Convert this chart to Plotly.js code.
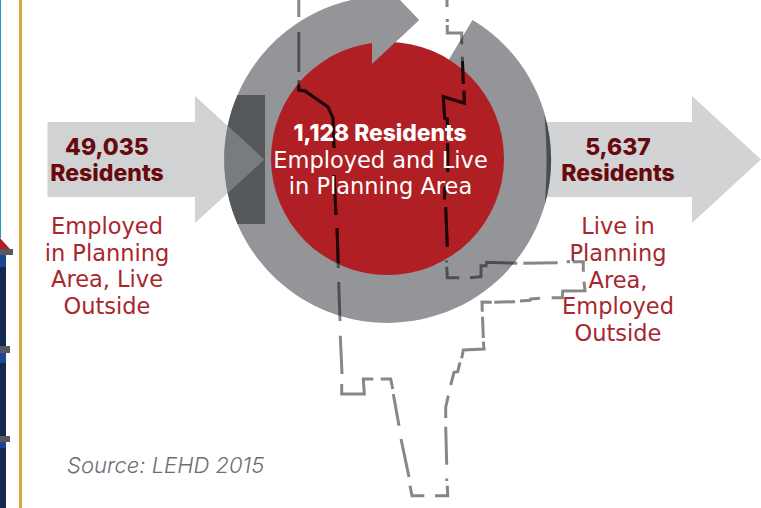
<!DOCTYPE html>
<html>
<head>
<meta charset="utf-8">
<script src="https://cdn.plot.ly/plotly-3.0.1.min.js"></script>
<style>html,body{margin:0;padding:0;background:#fff}</style>
</head>
<body>
<div id="chart" style="width:761px;height:508px"></div>
<script>
// Inflow / outflow head counts for the planning area
const residents = { inflow: 49035, resident: 1128, outflow: 5637 };
const fmt = n => n.toLocaleString("en-US");

// Palette
const GREY_RING = "#939598", DARK_PANEL = "#54585a", DARK_RIM = "#4a4d50";
const RED_CORE = "#b01f24", RED_LABEL = "#a8272d", RED_FIGURE = "#680a0d";
const ARROW_SOLID = "#d1d3d4", ARROW_GLASS = "rgba(160,163,165,0.485)";

// Arrow outlines
const inflowArrowX = [47.5, 195, 195, 264.5, 195, 195, 47.5];
const inflowArrowY = [122, 122, 96, 159.5, 223, 197, 197];
const outflowArrowX = [500, 692, 692, 761, 692, 692, 500];
const outflowArrowY = [122, 122, 96, 159.5, 223, 197, 197];

// Ring and core discs: centre x, centre y, radius
const ring = [387.7, 159.4, 163.5];
const core = [387.5, 158.5, 116.5];

// Arrowhead where the ring turns back on itself
const ringHeadX = [372, 396, 419, 372];
const ringHeadY = [-4, -4, 20, 64];

// Planning-area boundary, one run per drawn dash stroke
const boundaryRuns = [
  [[298.8,0],[298.8,17]],
  [[298.8,32],[298.8,72]],
  [[298.8,80],[298.8,90],[305,91],[328,107],[333,118],[334,148]],
  [[334,175],[336,215]],
  [[337,228],[338.3,268]],
  [[338.7,282],[340,321]],
  [[340.3,335.7],[342,374]],
  [[341.7,384],[341.7,394],[364.3,394],[363.3,379],[373.3,379]],
  [[380.7,379],[390.7,379],[392.7,389]],
  [[393.3,394],[399,425.7]],
  [[401,439],[409,477]],
  [[410,485.7],[412,495.7],[424.3,495.7]],
  [[435,495.7],[447.7,495.7],[447.3,485.7]],
  [[446.7,481],[446.7,478.5]],
  [[446.7,464.7],[445.7,426.7]],
  [[445.7,418],[445.7,407.3],[448.3,395.7]],
  [[450.7,385],[454,372.3],[457.7,371.7],[460,362.3]],
  [[461.7,358.3],[463.3,350],[484,349],[483.3,341.7]],
  [[483.3,338],[482.5,316.7]],
  [[482.3,311.7],[482,302],[491.7,302.3]],
  [[494.3,302.3],[515,301.7]],
  [[520,301],[530,300.3],[530.7,299],[540,298.3]],
  [[551.7,297.7],[562.3,297.7],[562.7,291],[585,290.7],[584,281.7]],
  [[583.3,271.7],[583.3,261.7],[572.7,261.7]],
  [[570,261.7],[566.7,261.7]],
  [[557.7,262.7],[523.3,263.3]],
  [[517.3,263.3],[486.7,262.3],[486,265.7],[481,265.7],[481,276.7],[470,277.7]],
  [[459.3,277.7],[447.3,277.7],[446.7,266.7]],
  [[446.5,262.5],[446.4,260.5]],
  [[447.3,246.7],[445.7,207.3]],
  [[444.3,199.3],[445,186.7]],
  [[447.7,171.7],[447.7,143.3]],
  [[447.5,135],[447.3,119],[444.7,118.3],[443.3,96.7],[464.3,103.3],[464,90.7]],
  [[463.3,84],[462.3,56.7]],
  [[461.7,44.3],[461.7,33],[447.3,33],[447.3,25]],
  [[447.3,22],[447.3,19]],
  [[447,7],[447,0]]
];
// The same strokes where they cross the red core
const boundaryOnCoreRuns = [
  [[298.8,85],[298.8,90],[305,91],[328,107],[333,118],[334,148]],
  [[334,175],[336,215]],
  [[337,228],[338.2,263]],
  [[447.3,246.7],[445.7,207.3]],
  [[444.3,199.3],[445,186.7]],
  [[447.7,171.7],[447.7,143.3]],
  [[447.5,135],[447.3,119],[444.7,118.3],[443.3,96.7],[464.3,103.3],[464,90.7]],
  [[463.3,84],[462.5,61]]
];

// Text lines
const figureX = [107, 107, 618, 618];
const figureY = [149, 175, 149, 175];
const figureText = [fmt(residents.inflow), "Residents", fmt(residents.outflow), "Residents"];

const noteX = [107, 107, 107, 107, 618, 618, 618, 618, 618];
const noteY = [228, 255, 281.5, 308, 228.5, 255.5, 282, 308.5, 335];
const noteText = ["Employed", "in Planning", "Area, Live", "Outside",
                  "Live in", "Planning", "Area,", "Employed", "Outside"];

const coreX = [380, 380.5, 380.5];
const coreY = [135.5, 162.5, 188.5];
const coreHead = fmt(residents.resident) + " Residents";
const coreText = ["Employed and Live", "in Planning Area"];

const sourceText = "Source: LEHD 2015";

// Neighbouring page furniture along the left edge
const sideBands = [
  { x: [0, 6], y: [252, 508], color: "#14294f" },
  { x: [0, 6], y: [255, 267], color: "#1f4690" },
  { x: [0, 6], y: [353, 363], color: "#1f4690" },
  { x: [0, 6], y: [442, 448], color: "#1f4690" },
  { x: [0, 13], y: [249, 255], color: "#58595b" },
  { x: [0, 10], y: [346, 353], color: "#58595b" },
  { x: [0, 10], y: [436, 442], color: "#58595b" },
  { x: [0, 1], y: [0, 238], color: "#1b9cc8" },
  { x: [19, 22], y: [0, 508], color: "#d6a740" }
];
const cornerX = [0, 10, 0], cornerY = [238, 249, 249];

function poly(xs, ys) {
  return "M" + xs.map((x, i) => x + "," + ys[i]).join(" L") + " Z";
}
// Shape paths have no arc command, so arcs go out as cubic Bezier runs.
function arc(c, rad, from, to, clockwise) {
  let a0 = Math.atan2(from[1] - c[1], from[0] - c[0]);
  let a1 = Math.atan2(to[1] - c[1], to[0] - c[0]);
  if (clockwise && a1 < a0) a1 += 2 * Math.PI;
  if (!clockwise && a1 > a0) a1 -= 2 * Math.PI;
  const n = Math.ceil(Math.abs(a1 - a0) / (Math.PI / 4));
  const da = (a1 - a0) / n, k = 4 / 3 * Math.tan(da / 4);
  let out = "";
  for (let i = 0; i < n; i++) {
    const s = a0 + i * da, e = s + da;
    const p = t => [c[0] + rad * Math.cos(t), c[1] + rad * Math.sin(t)];
    const ps = p(s), pe = p(e);
    out += ` C${ps[0] - k * rad * Math.sin(s)},${ps[1] + k * rad * Math.cos(s)}` +
           ` ${pe[0] + k * rad * Math.sin(e)},${pe[1] - k * rad * Math.cos(e)}` +
           ` ${pe[0]},${pe[1]}`;
  }
  return out;
}
function disc(c, color) {
  return { type: "circle", layer: "below", xref: "x", yref: "y",
           x0: c[0] - c[2], x1: c[0] + c[2], y0: c[1] - c[2], y1: c[1] + c[2],
           fillcolor: color, line: { width: 0 } };
}
function fill(path, color) {
  return { type: "path", layer: "below", xref: "x", yref: "y", path,
           fillcolor: color, line: { width: 0 } };
}
function flatten(runs) {
  const xs = [], ys = [];
  runs.forEach(run => {
    run.forEach(p => { xs.push(p[0]); ys.push(p[1]); });
    xs.push(null); ys.push(null);
  });
  return [xs, ys];
}

const r = ring[2];
const rc = [ring[0], ring[1]];
const tailCut = [472.5, 20], headStart = [396, -3.9];
const panelTop = [237.5, 95], panelBottom = [237.5, 224];
const rimTop = [544.5, 115], rimBottom = [544.5, 204];
const rimInnerCentre = [50.5, 159.5], rimInnerRadius = 496;

const shapes = [];
sideBands.forEach(b => shapes.push({
  type: "rect", layer: "below", xref: "x", yref: "y",
  x0: b.x[0], x1: b.x[1], y0: b.y[0], y1: b.y[1],
  fillcolor: b.color, line: { width: 0 }
}));
shapes.push(fill(poly(cornerX, cornerY), RED_CORE));
shapes.push(fill(poly(outflowArrowX, outflowArrowY), ARROW_SOLID));
// Ring body: clockwise from the tail cut, round to the arrowhead, back via the centre
shapes.push(fill(`M${tailCut}` + arc(rc, r, tailCut, headStart, true) +
                 ` L419,20 L372,64 L${rc} L448,61 Z`, GREY_RING));
// Shaded receiving panel on the left, following the ring's rim
shapes.push(fill(`M${panelTop} L265,95 L265,224 L${panelBottom}` +
                 arc(rc, r, panelBottom, panelTop, true) + " Z", DARK_PANEL));
// Dark rim where the outflow arrow leaves the ring
shapes.push(fill(`M${rimTop}` + arc(rc, r, rimTop, rimBottom, true) +
                 arc(rimInnerCentre, rimInnerRadius, rimBottom, rimTop, false) + " Z", DARK_RIM));
shapes.push(disc(core, RED_CORE));
shapes.push(fill(poly(ringHeadX, ringHeadY), GREY_RING));
shapes.push(fill(poly(inflowArrowX, inflowArrowY), ARROW_GLASS));

const [bx, by] = flatten(boundaryRuns);
const [cx, cy] = flatten(boundaryOnCoreRuns);
const BOLD_FONT = "Inter, 'Open Sans', sans-serif";
const BODY_FONT = "'DejaVu Sans', sans-serif";

const traces = [
  { x: bx, y: by, mode: "lines", line: { color: "rgba(0,0,0,0.47)", width: 3 }, hoverinfo: "skip" },
  { x: cx, y: cy, mode: "lines", line: { color: "#1f0609", width: 3 }, hoverinfo: "skip" },
  { x: figureX, y: figureY, mode: "text", text: figureText, textposition: "middle center",
    textfont: { family: BOLD_FONT, size: 23, weight: 800, color: RED_FIGURE }, hoverinfo: "skip" },
  { x: noteX, y: noteY, mode: "text", text: noteText, textposition: "middle center",
    textfont: { family: BODY_FONT, size: 22.5, weight: 400, color: RED_LABEL }, hoverinfo: "skip" },
  { x: [coreX[0]], y: [coreY[0]], mode: "text", text: [coreHead], textposition: "middle center",
    textfont: { family: BOLD_FONT, size: 22.8, weight: 800, color: "#ffffff" }, hoverinfo: "skip" },
  { x: coreX.slice(1), y: coreY.slice(1), mode: "text", text: coreText, textposition: "middle center",
    textfont: { family: BODY_FONT, size: 22.5, weight: 400, color: "#ffffff" }, hoverinfo: "skip" },
  { x: [67], y: [467], mode: "text", text: [sourceText], textposition: "middle right",
    textfont: { family: BOLD_FONT, size: 22, weight: 300, style: "italic", color: "#6d6e71" }, hoverinfo: "skip" }
];

const axisBase = { visible: false, fixedrange: true, showgrid: false, zeroline: false };
const layout = {
  width: 761, height: 508, autosize: false,
  margin: { l: 0, r: 0, t: 0, b: 0, pad: 0 },
  paper_bgcolor: "#ffffff", plot_bgcolor: "#ffffff",
  showlegend: false,
  xaxis: Object.assign({ range: [0, 761] }, axisBase),
  yaxis: Object.assign({ range: [508, 0] }, axisBase),
  shapes
};
Plotly.newPlot("chart", traces, layout, { displayModeBar: false, staticPlot: true });
</script>
</body>
</html>
